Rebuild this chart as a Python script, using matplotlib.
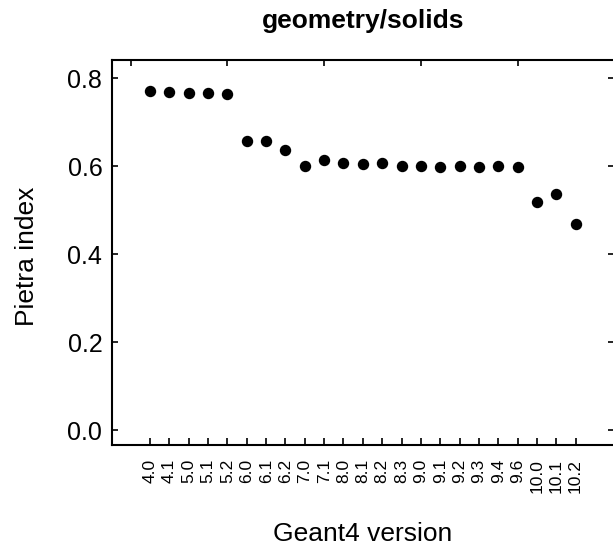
import matplotlib
matplotlib.use("Agg")
import matplotlib.pyplot as plt
import numpy as np

plt.rcParams['font.family'] = ['Liberation Sans', 'DejaVu Sans']

versions = ["4.0", "4.1", "5.0", "5.1", "5.2", "6.0", "6.1", "6.2", "7.0", "7.1",
            "8.0", "8.1", "8.2", "8.3", "9.0", "9.1", "9.2", "9.3", "9.4", "9.6",
            "10.0", "10.1", "10.2"]
pietra = [0.771, 0.770, 0.767, 0.767, 0.765, 0.658, 0.658, 0.637, 0.601, 0.614,
          0.607, 0.606, 0.607, 0.601, 0.601, 0.599, 0.601, 0.598, 0.601, 0.599,
          0.519, 0.537, 0.469]
y_ticks = [0.0, 0.2, 0.4, 0.6, 0.8]

fig = plt.figure(figsize=(6.13, 5.48), dpi=100)
W, H = 613, 548
ax = fig.add_axes([112 / W, 1 - 445 / H, (613 - 112) / W + 0.002, (445 - 60) / H])

x = np.arange(len(versions))
ax.plot(x, pietra, 'o', color='black', markersize=7.2, linestyle='none')

ax.set_xlim(-1.97, 24.0)
ax.set_ylim(-0.034, 0.842)
ax.set_xticks(x)
ax.set_xticklabels(versions, rotation=90, fontsize=12.5)
ax.set_yticks(y_ticks)
ax.set_yticklabels([f"{v:.1f}" for v in y_ticks], fontsize=18)
ax.tick_params(axis='x', direction='in', length=5, width=1.2, pad=10)
ax.tick_params(axis='y', direction='in', length=4, width=1.2, pad=7)
ax.tick_params(axis='y', which='both', right=True, labelright=False)

for s in ['left', 'bottom', 'top']:
    ax.spines[s].set_linewidth(1.5)
ax.spines['right'].set_visible(False)

sec = ax.secondary_xaxis('top')
sec.set_xticks([-1, 4, 9, 14, 19])
sec.set_xticklabels([])
sec.tick_params(direction='in', length=4, width=1.2)
sec.spines['top'].set_visible(False)

ax.set_title("geometry/solids", fontsize=19, fontweight='bold', pad=23)
ax.set_ylabel("Pietra index", fontsize=19)
ax.set_xlabel("Geant4 version", fontsize=19)
ax.yaxis.set_label_coords(-0.146, 0.49)
ax.xaxis.set_label_coords(0.5, -0.20)

fig.savefig("out.png", dpi=100)
